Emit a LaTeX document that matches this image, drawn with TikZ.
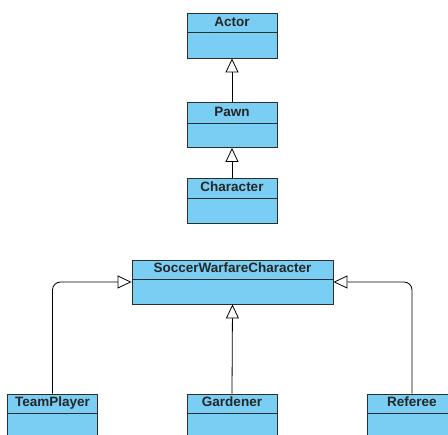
\documentclass[tikz,border=0pt]{standalone}
\usepackage{fontspec}
\setmainfont{Liberation Sans}
\usetikzlibrary{arrows.meta}
\definecolor{classfill}{RGB}{122,206,243}
\definecolor{classline}{RGB}{45,45,45}
\tikzset{
  classbox/.style={draw=classline, line width=0.9pt, fill=classfill, inner sep=0pt,
                   minimum width=90pt, minimum height=45pt},
  classname/.style={font=\bfseries\fontsize{13.5}{14}\selectfont, text=black!85,
                    inner sep=0pt, anchor=base},
  divider/.style={draw=classline, line width=0.9pt},
  inherit/.style={draw=black, line width=0.8pt,
                  -{Triangle[open, length=14pt, width=13pt, fill=white]}},
}
\begin{document}
\begin{tikzpicture}[x=1pt, y=-1pt]
  \useasboundingbox (0,0) rectangle (448,435);
  \clip (0,0) rectangle (448,435);

  % class boxes: name compartment above the divider, empty compartment below
  \node[classbox] (actor) at (232,35.5) {};
  \draw[divider] (187,32) -- (277,32);
  \node[classname] (actorname) at (232,26.5) {Actor};

  \node[classbox] (pawn) at (232,125) {};
  \draw[divider] (187,123) -- (277,123);
  \node[classname] (pawnname) at (232,116.5) {Pawn};

  \node[classbox] (character) at (232,200.5) {};
  \draw[divider] (187,198) -- (277,198);
  \node[classname] (charname) at (232,191.5) {Character};

  \node[classbox, minimum width=201pt, minimum height=44pt] (swc) at (232.5,282) {};
  \draw[divider] (132,279) -- (333,279);
  \node[classname] (swcname) at (232.5,273) {SoccerWarfareCharacter};

  \node[classbox] (tp) at (52.5,416.5) {};
  \draw[divider] (7.5,413) -- (97.5,413);
  \node[classname] (tpname) at (52.5,407) {TeamPlayer};

  \node[classbox] (gardener) at (232,416.5) {};
  \draw[divider] (187,413) -- (277,413);
  \node[classname] (gardenername) at (232,407) {Gardener};

  \node[classbox] (referee) at (412,416.5) {};
  \draw[divider] (367,413) -- (457,413);
  \node[classname] (refereename) at (412,407) {Referee};

  % generalisation connectors
  \draw[inherit] (pawn.north) -- (actor.south);
  \draw[inherit] (character.north) -- (pawn.south);
  \draw[inherit] (gardener.north) -- (swc.south);
  \draw[inherit, rounded corners=8pt] (tp.north) |- (swc.west);
  \draw[inherit, rounded corners=8pt] (referee.north) |- (swc.east);
\end{tikzpicture}
\end{document}
